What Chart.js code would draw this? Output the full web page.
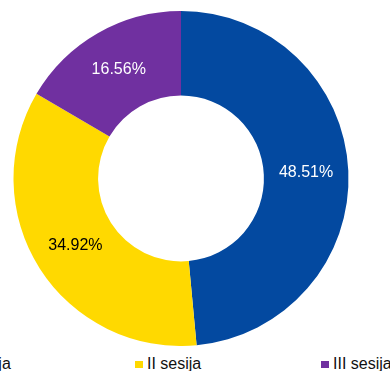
<!DOCTYPE html>
<html>
<head>
<meta charset="utf-8">
<style>
  html, body { margin: 0; padding: 0; background: #fff; overflow: hidden; }
  #wrap { position: relative; width: 390px; height: 371px; overflow: hidden; }
  #box { position: absolute; left: 0; top: 0; width: 362px; height: 346px; }
  #legend { position: absolute; left: -51px; top: 355px; display: flex; white-space: nowrap;
            font-family: "Liberation Sans", Arial, sans-serif; font-size: 16px; color: #111; }
  #legend .item { width: 186px; display: flex; align-items: center; }
  #legend .sw { width: 8px; height: 7px; margin-right: 4px; }
</style>
</head>
<body>
<div id="wrap">
  <div id="box"><canvas id="donut"></canvas></div>
  <div id="legend"></div>
</div>

<script src="https://cdn.jsdelivr.net/npm/chart.js"></script>
<script>
  const labels = ["I sesija", "II sesija", "III sesija"];
  const shares = [48.51, 34.92, 16.56];
  const colors = ["#0349A0", "#FFD900", "#7030A0"];
  const labelColors = ["#ffffff", "#000000", "#ffffff"];

  // percent labels in the middle of each ring segment
  const sliceLabels = {
    id: "sliceLabels",
    afterDatasetsDraw(chart) {
      const ctx = chart.ctx;
      const meta = chart.getDatasetMeta(0);
      ctx.save();
      ctx.font = "16px 'Liberation Sans', Arial, sans-serif";
      ctx.textAlign = "center";
      ctx.textBaseline = "middle";
      meta.data.forEach((arc, i) => {
        const p = arc.tooltipPosition();
        ctx.fillStyle = labelColors[i];
        ctx.fillText(shares[i].toFixed(2) + "%", p.x, p.y);
      });
      ctx.restore();
    }
  };

  new Chart(document.getElementById("donut"), {
    type: "doughnut",
    data: {
      labels: labels,
      datasets: [{ data: shares, backgroundColor: colors, borderWidth: 0 }]
    },
    options: {
      responsive: true,
      maintainAspectRatio: false,
      animation: false,
      cutout: "49.5%",
      layout: { padding: { top: 11, bottom: 0 } },
      plugins: { legend: { display: false }, tooltip: { enabled: false } }
    },
    plugins: [sliceLabels]
  });

  const legend = document.getElementById("legend");
  labels.forEach((name, i) => {
    const item = document.createElement("div");
    item.className = "item";
    const sw = document.createElement("span");
    sw.className = "sw";
    sw.style.background = colors[i];
    const txt = document.createElement("span");
    txt.textContent = name;
    item.appendChild(sw);
    item.appendChild(txt);
    legend.appendChild(item);
  });
</script>
</body>
</html>
